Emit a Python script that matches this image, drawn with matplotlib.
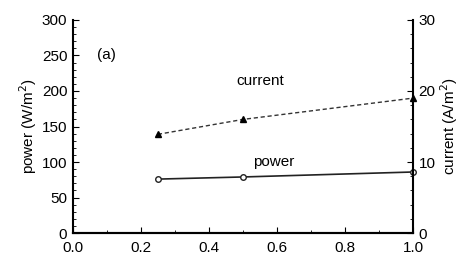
import numpy as np
import matplotlib
matplotlib.use("Agg")
import matplotlib.pyplot as plt
from matplotlib.ticker import MultipleLocator

plt.rcParams['font.family'] = ['Liberation Sans', 'DejaVu Sans']

x = [0.25, 0.5, 1.0]
power = [76, 79, 86]
current = [13.9, 16.0, 19.0]

fig = plt.figure(figsize=(4.7, 2.59), dpi=100)
ax = fig.add_axes([0.155, 0.100, 0.724, 0.823])
ax2 = ax.twinx()

ax.plot(x, power, '-', color='#222222', lw=1.2, marker='o', ms=4, mfc='white', mec='#222222', clip_on=False)
ax2.plot(x, current, '--', color='#333333', lw=1.0, marker='^', ms=5, mfc='black', mec='black',
         dashes=(3, 2), clip_on=False)

ax.set_xlim(0, 1.0)
ax.set_ylim(0, 300)
ax2.set_ylim(0, 30)
ax.xaxis.set_major_locator(MultipleLocator(0.2))
ax.xaxis.set_minor_locator(MultipleLocator(0.1))
ax.yaxis.set_major_locator(MultipleLocator(50))
ax.yaxis.set_minor_locator(MultipleLocator(10))
ax2.yaxis.set_major_locator(MultipleLocator(10))
ax2.yaxis.set_minor_locator(MultipleLocator(2))
ax.xaxis.set_major_formatter(plt.FormatStrFormatter('%.1f'))

for a in (ax, ax2):
    a.spines['top'].set_visible(False)
    for s in a.spines.values():
        s.set_linewidth(1.5)
    a.tick_params(which='both', direction='in', labelsize=11)
    a.tick_params(which='major', length=4)
    a.tick_params(which='minor', length=2)
ax.spines['right'].set_visible(False)
ax2.spines['left'].set_visible(False)
ax.tick_params(axis='x', pad=6)
ax.tick_params(axis='y', pad=4)
ax2.tick_params(axis='y', pad=4)

ax.set_ylabel('power (W/m$^2$)', fontsize=11, labelpad=2)
ax2.set_ylabel('current (A/m$^2$)', fontsize=11, labelpad=2)

ax.text(0.1, 250, '(a)', fontsize=11, ha='center', va='center')
ax.text(0.55, 214, 'current', fontsize=11, ha='center', va='center')
ax.text(0.59, 100, 'power', fontsize=11, ha='center', va='center')

fig.savefig('out.png', dpi=100)
